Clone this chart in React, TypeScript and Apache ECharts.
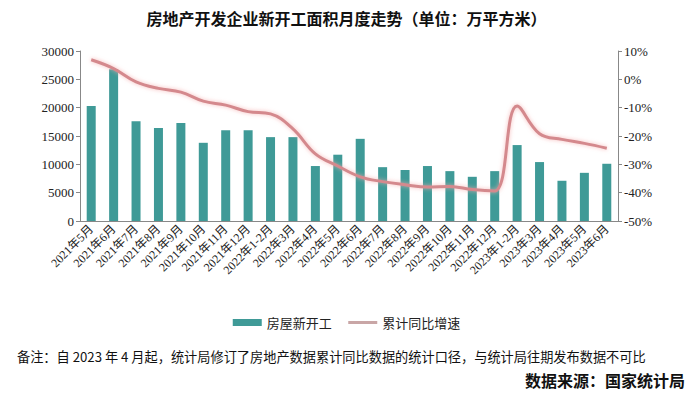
import React, { useEffect, useRef } from "react";
import * as echarts from "echarts";

const categories = [
  "2021年5月", "2021年6月", "2021年7月", "2021年8月", "2021年9月", "2021年10月",
  "2021年11月", "2021年12月", "2022年1-2月", "2022年3月", "2022年4月", "2022年5月",
  "2022年6月", "2022年7月", "2022年8月", "2022年9月", "2022年10月", "2022年11月",
  "2022年12月", "2023年1-2月", "2023年3月", "2023年4月", "2023年5月", "2023年6月",
];

const newStarts = [
  20300, 26800, 17600, 16400, 17300, 13800, 16000, 16000, 14800, 14800, 9700, 11700,
  14500, 9500, 9000, 9700, 8800, 7800, 8800, 13400, 10400, 7100, 8500, 10100,
];

const cumulativeGrowth = [
  6.9, 3.8, -0.9, -3.2, -4.5, -7.7, -9.1, -11.4, -12.2, -17.5, -26.3, -30.6,
  -34.4, -36.1, -37.2, -38.0, -37.8, -38.9, -39.4, -9.4, -19.2, -21.2, -22.6, -24.3,
];

const leftTicks = { min: 0, max: 30000, interval: 5000 };
const rightTicks = { min: -50, max: 10, interval: 10 };

const titleText = "房地产开发企业新开工面积月度走势（单位：万平方米）";
const noteText = "备注：自 2023 年 4 月起，统计局修订了房地产数据累计同比数据的统计口径，与统计局往期发布数据不可比";
const sourceText = "数据来源：国家统计局";

const labelFont = "'Liberation Serif', 'Noto Sans CJK SC', serif";
const cjkFont = "'Noto Sans CJK SC', sans-serif";

export default function App() {
  const ref = useRef<HTMLDivElement>(null);
  useEffect(() => {
    if (!ref.current) return;
    const chart = echarts.init(ref.current, undefined, { renderer: "svg" });
    chart.setOption({
      animation: false,
      backgroundColor: "#ffffff",
      title: {
        text: titleText,
        left: "center",
        top: 5,
        textStyle: { fontSize: 16, fontWeight: "bold", color: "#111", fontFamily: cjkFont },
      },
      legend: {
        top: 311,
        left: "center",
        itemWidth: 29,
        itemHeight: 7,
        itemGap: 15,
        textStyle: { fontSize: 13, color: "#222", fontFamily: cjkFont },
        data: [
          { name: "房屋新开工", icon: "rect" },
          {
            name: "累计同比增速",
            itemStyle: { opacity: 0 },
            lineStyle: { color: "#c9a6a6", width: 3, shadowBlur: 0 },
          },
        ],
      },
      grid: { left: 80, right: 75, top: 51, bottom: 175 },
      xAxis: {
        type: "category",
        data: categories,
        boundaryGap: true,
        axisLine: { lineStyle: { color: "#888" } },
        axisTick: { interval: 0, lineStyle: { color: "#888" }, length: 4 },
        axisLabel: {
          interval: 0,
          rotate: 45,
          fontSize: 12,
          color: "#222",
          fontFamily: labelFont,
          margin: 6,
        },
      },
      yAxis: [
        {
          type: "value",
          ...leftTicks,
          splitLine: { show: false },
          axisLine: { show: true, lineStyle: { color: "#888" } },
          axisTick: { show: true, length: 4, lineStyle: { color: "#888" } },
          axisLabel: {
            fontSize: 13,
            color: "#222",
            fontFamily: labelFont,
            margin: 6,
            formatter: (v: number) => `${v}`,
          },
        },
        {
          type: "value",
          ...rightTicks,
          splitLine: { show: false },
          axisLine: { show: true, lineStyle: { color: "#888" } },
          axisTick: { show: true, length: 4, lineStyle: { color: "#888" } },
          axisLabel: {
            fontSize: 13,
            color: "#222",
            fontFamily: labelFont,
            margin: 6,
            formatter: (v: number) => `${v}%`,
          },
        },
      ],
      series: [
        {
          name: "房屋新开工",
          type: "bar",
          data: newStarts,
          barWidth: 9,
          itemStyle: { color: "#3f9a97" },
        },
        {
          name: "累计同比增速",
          type: "line",
          yAxisIndex: 1,
          data: cumulativeGrowth,
          smooth: 0.4,
          symbol: "none",
          lineStyle: {
            width: 3,
            color: "#d4898d",
            shadowColor: "rgba(245,170,170,0.8)",
            shadowBlur: 4,
          },
          itemStyle: { color: "#c9a9a9" },
        },
      ],
      graphic: [
        {
          type: "text",
          left: 17,
          top: 350,
          style: { text: noteText, fontSize: 13.2, fill: "#111", fontFamily: cjkFont },
        },
        {
          type: "text",
          right: 8,
          top: 372,
          style: { text: sourceText, fontSize: 16, fontWeight: "bold", fill: "#111", fontFamily: cjkFont },
        },
      ],
    });
    return () => chart.dispose();
  }, []);
  return (
    <div
      ref={ref}
      style={{ position: "fixed", left: 0, top: 0, width: 693, height: 396, background: "#fff" }}
    />
  );
}
